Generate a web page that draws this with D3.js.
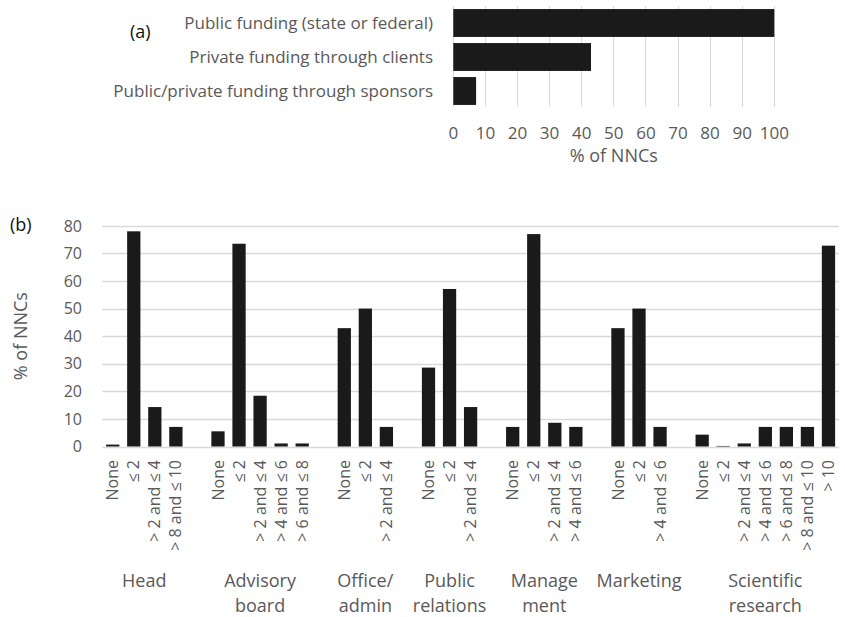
<!DOCTYPE html>
<html>
<head>
<meta charset="utf-8">
<script src="https://cdn.jsdelivr.net/npm/d3@7"></script>
<style>
  html, body { margin: 0; padding: 0; background: #fff; }
  svg { display: block; font-family: "Open Sans", sans-serif; }
</style>
</head>
<body>
<svg id="chart" width="845" height="617"></svg>
<script>
// ---------- Data: panel (a) ----------
const fundingCategories = [
  "Public funding (state or federal)",
  "Private funding through clients",
  "Public/private funding through sponsors"
];
const fundingValues = [100, 42.9, 7.1];
const fundingTicks = [0, 10, 20, 30, 40, 50, 60, 70, 80, 90, 100];

// ---------- Data: panel (b) ----------
const groupLabels = [
  ["Head"],
  ["Advisory", "board"],
  ["Office/", "admin"],
  ["Public", "relations"],
  ["Manage", "ment"],
  ["Marketing"],
  ["Scientific", "research"]
];
const headCategories = ["None", "≤ 2", "> 2 and ≤ 4", "> 8 and ≤ 10"];
const headValues = [0.7, 78.0, 14.3, 7.1];
const advisoryCategories = ["None", "≤ 2", "> 2 and ≤ 4", "> 4 and ≤ 6", "> 6 and ≤ 8"];
const advisoryValues = [5.5, 73.5, 18.4, 1.1, 1.1];
const officeCategories = ["None", "≤ 2", "> 2 and ≤ 4"];
const officeValues = [42.9, 50.0, 7.1];
const prCategories = ["None", "≤ 2", "> 2 and ≤ 4"];
const prValues = [28.6, 57.1, 14.3];
const managementCategories = ["None", "≤ 2", "> 2 and ≤ 4", "> 4 and ≤ 6"];
const managementValues = [7.1, 77.0, 8.6, 7.1];
const marketingCategories = ["None", "≤ 2", "> 4 and ≤ 6"];
const marketingValues = [42.9, 50.0, 7.1];
const scienceCategories = ["None", "≤ 2", "> 2 and ≤ 4", "> 4 and ≤ 6", "> 6 and ≤ 8", "> 8 and ≤ 10", "> 10"];
const scienceValues = [4.3, 0.2, 1.1, 7.1, 7.1, 7.1, 72.8];
const staffTicks = [0, 10, 20, 30, 40, 50, 60, 70, 80];

const groupCategories = [headCategories, advisoryCategories, officeCategories, prCategories,
  managementCategories, marketingCategories, scienceCategories];
const groupValues = [headValues, advisoryValues, officeValues, prValues,
  managementValues, marketingValues, scienceValues];

// ---------- Styles ----------
const BAR = "#1a1a1a";
const GRID = "#d9d9d9";
const TEXT = "#595959";

const svg = d3.select("#chart");
svg.append("rect").attr("width", 845).attr("height", 617).attr("fill", "#fff");

// ================= Panel (a) =================
const xa = d3.scaleLinear().domain([0, 100]).range([453.3, 774.3]);
const ya = d3.scaleBand().domain(fundingCategories).range([6, 108])
  .paddingInner(0.18).paddingOuter(0.09);

const ga = svg.append("g");
ga.append("g").selectAll("line").data(fundingTicks).join("line")
  .attr("x1", d => xa(d)).attr("x2", d => xa(d))
  .attr("y1", 6).attr("y2", 107)
  .attr("stroke", GRID).attr("stroke-width", 1)
  .attr("shape-rendering", "crispEdges");

ga.append("g").selectAll("rect").data(fundingCategories).join("rect")
  .attr("x", xa(0))
  .attr("y", d => ya(d))
  .attr("width", (d, i) => xa(fundingValues[i]) - xa(0))
  .attr("height", ya.bandwidth())
  .attr("fill", BAR);

ga.append("g").selectAll("text").data(fundingCategories).join("text")
  .attr("x", 433)
  .attr("y", d => ya(d) + ya.bandwidth() / 2)
  .attr("dy", "0.35em")
  .attr("text-anchor", "end")
  .attr("font-size", 17)
  .attr("fill", TEXT)
  .text(d => d);

ga.append("g").selectAll("text").data(fundingTicks).join("text")
  .attr("x", d => xa(d))
  .attr("y", 132.5)
  .attr("dy", "0.36em")
  .attr("text-anchor", "middle")
  .attr("font-size", 17)
  .attr("fill", TEXT)
  .text(d => d);

ga.append("text")
  .attr("x", (xa(0) + xa(100)) / 2)
  .attr("y", 161.5)
  .attr("text-anchor", "middle")
  .attr("font-size", 18)
  .attr("fill", TEXT)
  .text("% of NNCs");

ga.append("text")
  .attr("x", 130).attr("y", 37.5)
  .attr("font-size", 18)
  .attr("fill", "#111")
  .text("(a)");

// ================= Panel (b) =================
// Build slot domain (blank slot between groups)
const slots = [];
groupCategories.forEach((cats, g) => {
  cats.forEach((c, i) => slots.push({ key: g + "-" + i, group: g, label: c, value: groupValues[g][i] }));
  if (g < groupCategories.length - 1) slots.push({ key: "gap-" + g, group: g, label: "", value: null });
});
const bars = slots.filter(s => s.value !== null);

const xb = d3.scaleBand().domain(slots.map(s => s.key)).range([102.2, 839])
  .paddingInner(0.37).paddingOuter(0.185);
const yb = d3.scaleLinear().domain([0, 80]).range([446.5, 225.8]);

const gb = svg.append("g");
gb.append("g").selectAll("line").data(staffTicks).join("line")
  .attr("x1", 102.2).attr("x2", 839)
  .attr("y1", d => Math.round(yb(d)) + 0.5).attr("y2", d => Math.round(yb(d)) + 0.5)
  .attr("stroke", GRID).attr("stroke-width", 1.3);

gb.append("g").selectAll("text").data(staffTicks).join("text")
  .attr("x", 82)
  .attr("y", d => yb(d))
  .attr("dy", "0.36em")
  .attr("text-anchor", "end")
  .attr("font-size", 16)
  .attr("fill", TEXT)
  .text(d => d);

gb.append("g").selectAll("rect").data(bars).join("rect")
  .attr("x", d => xb(d.key))
  .attr("y", d => yb(d.value))
  .attr("width", xb.bandwidth())
  .attr("height", d => yb(0) - yb(d.value))
  .attr("fill", BAR);

gb.append("g").selectAll("text").data(bars).join("text")
  .attr("transform", d => `translate(${xb(d.key) + xb.bandwidth() / 2},460) rotate(-90)`)
  .attr("dy", "0.35em")
  .attr("text-anchor", "end")
  .attr("font-size", 16)
  .attr("fill", TEXT)
  .text(d => d.label);

// Group labels centred over their bars
groupLabels.forEach((lines, g) => {
  const keys = bars.filter(b => b.group === g).map(b => b.key);
  const cx = (xb(keys[0]) + xb(keys[keys.length - 1]) + xb.bandwidth()) / 2;
  const t = gb.append("text")
    .attr("text-anchor", "middle")
    .attr("font-size", 18)
    .attr("fill", TEXT);
  lines.forEach((ln, i) => {
    t.append("tspan").attr("x", cx).attr("y", 587 + i * 25).text(ln);
  });
});

gb.append("text")
  .attr("transform", `translate(21,${(yb(0) + yb(80)) / 2}) rotate(-90)`)
  .attr("dy", "0.35em")
  .attr("text-anchor", "middle")
  .attr("font-size", 18)
  .attr("fill", TEXT)
  .text("% of NNCs");

gb.append("text")
  .attr("x", 10).attr("y", 231)
  .attr("font-size", 18)
  .attr("fill", "#111")
  .text("(b)");
</script>
</body>
</html>
